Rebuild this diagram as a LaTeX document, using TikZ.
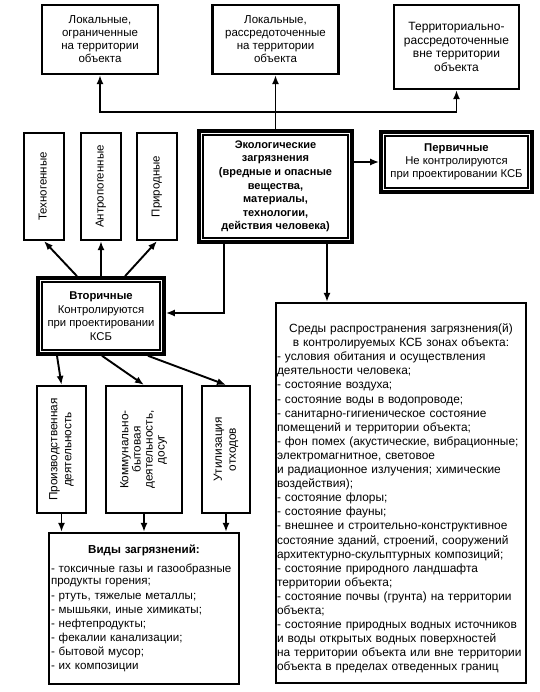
\documentclass[tikz,border=0pt]{standalone}
\usepackage{fontspec}
\setmainfont{Liberation Sans}
\usepackage{graphicx}
\usetikzlibrary{arrows.meta,positioning,calc}
\tikzstyle{arrow} = [
    line width=1.9pt,
    -{Latex[length=9pt,width=7pt]}
]
\tikzstyle{box} = [
    draw,
    line width=2.2pt,
    align=center,
    inner sep=2pt,
    font=\fontsize{11.5}{13}\selectfont
]
\tikzstyle{dbox} = [box, line width=3.6pt]
\newcommand{\vtext}[1]{\rotatebox{90}{\begin{tabular}{@{}c@{}}#1\end{tabular}}}
\newcommand{\innerframe}[1]{%
    \draw[line width=1.7pt] ($(#1.north west)+(6pt,-6pt)$) rectangle ($(#1.south east)+(-6pt,6pt)$);}

\begin{document}
\begin{tikzpicture}[x=1pt,y=-1pt]
    \useasboundingbox (0,0) rectangle (539,692);
    % Top row
    \node[box, minimum width=116pt, minimum height=69pt] (local) at (100,39.5) {Локальные,\\ограниченные\\на территории\\объекта};
    \node[box, minimum width=126pt, minimum height=69pt] (spread) at (275.5,39.5) {Локальные,\\рассредоточенные\\на территории\\объекта};
    \node[box, font=\fontsize{12}{13.5}\selectfont, minimum width=125pt, minimum height=84pt] (outside) at (456.5,47) {Территориально-\\рассредоточенные\\вне территории\\объекта};
    % Centre
    \node[dbox, font=\bfseries\fontsize{11}{13.6}\selectfont, minimum width=153pt, minimum height=111pt] (eco) at (275.5,186.5) {Экологические\\загрязнения\\(вредные и опасные\\вещества,\\материалы,\\технологии,\\действия человека)};
    \innerframe{eco}
    \node[dbox, font=\fontsize{11.3}{13}\selectfont, minimum width=151pt, minimum height=60pt] (primary) at (456.5,162) {\textbf{Первичные}\\Не контролируются\\при проектировании КСБ};
    \innerframe{primary}
    % Sources
    \node[box, minimum width=40pt, minimum height=107pt] (techno) at (44,186.5) {\vtext{Техногенные}};
    \node[box, minimum width=40pt, minimum height=107pt] (anthro) at (101,186.5) {\vtext{Антропогенные}};
    \node[box, minimum width=40pt, minimum height=107pt] (nature) at (157,186.5) {\vtext{Природные}};
    % Secondary
    \node[dbox, font=\fontsize{11.3}{13.5}\selectfont, minimum width=126pt, minimum height=76pt] (second) at (101,316) {\textbf{Вторичные}\\Контролируются\\при проектировании\\КСБ};
    \innerframe{second}
    \node[box, font=\fontsize{11.8}{14}\selectfont, minimum width=49pt, minimum height=127pt] (industry) at (61.5,449.5) {\vtext{Производственная\\деятельность}};
    \node[box, font=\fontsize{11.8}{12}\selectfont, minimum width=76pt, minimum height=127pt] (household) at (144,449.5) {\vtext{Коммунально-\\бытовая\\деятельность,\\досуг}};
    \node[box, font=\fontsize{11.8}{14}\selectfont, minimum width=48pt, minimum height=127pt] (waste) at (226,449.5) {\vtext{Утилизация\\отходов}};
    % Kinds of pollution
    \node[box, font=\fontsize{11.6}{14}\selectfont, minimum width=190pt, minimum height=151pt, text width=186pt, inner sep=1.5pt, align=left] (kinds) at (144,608.5) {\makebox[186pt]{\textbf{Виды загрязнений:}}\\[5pt]
        - токсичные газы и газообразные\\[-2pt]продукты горения;\\[1pt]- ртуть, тяжелые металлы;\\- мышьяки, иные химикаты;\\- нефтепродукты;\\- фекалии канализации;\\- бытовой мусор;\\- их композиции};
    % Media
    \node[box, font=\fontsize{11.9}{14.1}\selectfont, minimum width=250pt, minimum height=380pt, text width=248pt, inner sep=1pt, align=left] (media) at (401,493) {\rule{0pt}{20pt}\makebox[248pt]{Среды распространения загрязнения(й)}\\\makebox[248pt]{в контролируемых КСБ зонах объекта:}\\
        - условия обитания и осуществления\\деятельности человека;\\- состояние воздуха;\\- состояние воды в водопроводе;\\- санитарно-гигиеническое состояние\\помещений и территории объекта;\\- фон помех (акустические, вибрационные;\\электромагнитное, световое\\и радиационное излучения; химические\\воздействия);\\- состояние флоры;\\- состояние фауны;\\- внешнее и строительно-конструктивное\\состояние зданий, строений, сооружений\\архитектурно-скульптурных композиций;\\- состояние природного ландшафта\\территории объекта;\\- состояние почвы (грунта) на территории\\объекта;\\- состояние природных водных источников\\и воды открытых водных поверхностей\\на территории объекта или вне территории\\объекта в пределах отведенных границ};
    % Connectors
    \coordinate (hub) at (275.5,112);
    \coordinate (ecoL) at ([xshift=-51.5pt]eco.south);
    \coordinate (ecoR) at ([xshift=51.5pt]eco.south);
    \draw[arrow] (eco.north) -- (spread.south);
    \draw[arrow] (hub) -| (local.south);
    \draw[arrow] (hub) -| (outside.south);
    \draw[arrow] (eco.east |- primary.west) -- (primary.west);
    \draw[arrow] (ecoL) |- ([yshift=3pt]second.east);
    \draw[arrow] (ecoR) -- (ecoR |- media.north);
    \draw[arrow] ([xshift=-24pt]second.north) -- (techno.south);
    \draw[arrow] (second.north) -- (anthro.south);
    \draw[arrow] ([xshift=24pt]second.north) -- (nature.south);
    \draw[arrow] ([xshift=-44pt]second.south) -- (industry.north);
    \draw[arrow] ([xshift=1pt]second.south) -- (household.north);
    \draw[arrow] ([xshift=47pt]second.south) -- (waste.north);
    \draw[arrow] (industry.south) -- (industry.south |- kinds.north);
    \draw[arrow] (household.south) -- (household.south |- kinds.north);
    \draw[arrow] (waste.south) -- (waste.south |- kinds.north);
\end{tikzpicture}
\end{document}
